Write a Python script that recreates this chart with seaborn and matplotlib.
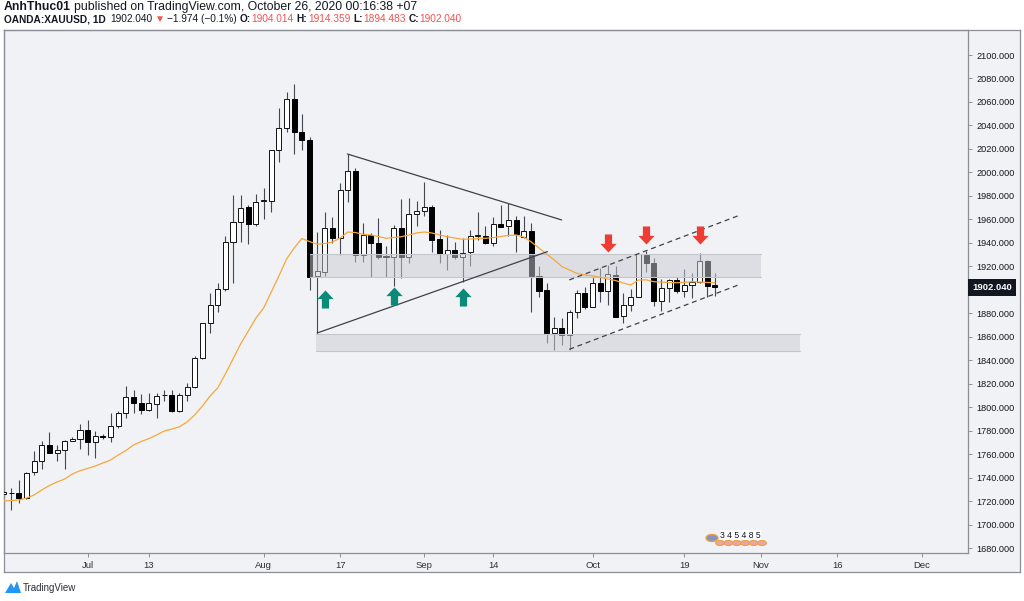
import numpy as np
import pandas as pd
import matplotlib
matplotlib.use("Agg")
import matplotlib.pyplot as plt
import matplotlib.transforms as mtransforms
from matplotlib.patches import Rectangle, Polygon, Circle
from matplotlib.path import Path
import seaborn as sns

# ---------------- data ----------------
opens = [1726.0, 1727.0, 1726.7, 1723.0, 1744.5, 1754.4, 1767.5, 1761.0, 1763.6, 1771.0,
         1772.7, 1780.6, 1770.0, 1775.0, 1775.0, 1784.0, 1795.0, 1809.0, 1803.3, 1797.6,
         1802.7, 1810.0, 1810.4, 1797.0, 1810.0, 1817.0, 1841.7, 1871.5, 1887.0, 1900.4,
         1941.0, 1958.0, 1970.3, 1955.8, 1975.6, 1976.0, 2019.0, 2037.6, 2062.5, 2034.7,
         2027.6, 1911.8, 1915.5, 1953.0, 1944.4, 1985.0, 2001.5, 1929.6, 1946.7, 1940.0,
         1928.5, 1928.0, 1953.0, 1928.0, 1964.6, 1967.5, 1970.3, 1943.0, 1930.3, 1934.0,
         1928.0, 1932.0, 1945.8, 1945.8, 1940.0, 1956.0, 1954.3, 1959.5, 1944.7, 1950.4,
         1912.0, 1899.8, 1863.0, 1867.2, 1861.5, 1881.4, 1897.0, 1885.0, 1906.0, 1899.0,
         1912.6, 1877.7, 1887.0, 1893.6, 1929.6, 1922.6, 1890.8, 1901.3, 1908.0, 1899.0,
         1904.0, 1906.4, 1924.6, 1904.014]
highs = [1729, 1731, 1738, 1745, 1763, 1771, 1779, 1768, 1772, 1775,
         1786, 1789, 1780, 1777, 1795, 1797, 1818, 1815, 1811, 1812,
         1812, 1815, 1815, 1812, 1821, 1844, 1872, 1897.5, 1906, 1945.5,
         1981, 1981, 1972, 1982, 1986.5, 2019.5, 2055, 2068.7, 2075, 2049.5,
         2030, 1949, 1966.5, 1962, 1991, 2015.7, 2004, 1956.6, 1948, 1961,
         1937, 1955, 1977, 1978, 1976, 1992, 1972, 1951, 1946.7, 1941,
         1944, 1951, 1966.5, 1954, 1962, 1972.2, 1973.7, 1963, 1963, 1956.6,
         1920, 1905.5, 1877, 1875.7, 1882.8, 1899.8, 1902.7, 1911.8, 1918.3, 1921,
         1920.5, 1897.6, 1900.5, 1931.6, 1933.4, 1926.8, 1909, 1909, 1911, 1918,
         1914, 1931.6, 1925.4, 1914.359]
lows = [1725, 1712.5, 1718, 1722, 1742, 1747, 1761, 1754, 1747, 1771,
        1764, 1759, 1757, 1773, 1770, 1782, 1791, 1795, 1794, 1797,
        1790.5, 1805, 1796, 1796, 1805, 1816, 1841, 1863.5, 1881, 1899,
        1906, 1941, 1939, 1954.6, 1960, 1966.5, 2009, 2034, 2015.4, 2019,
        1900, 1863, 1911.8, 1939.6, 1929.6, 1975, 1924, 1924, 1910.6, 1926,
        1911, 1903, 1910, 1923, 1954, 1963, 1932.5, 1922.6, 1917, 1926,
        1907, 1920, 1942, 1938.8, 1937.3, 1953.7, 1946, 1932.5, 1944, 1881.4,
        1894, 1855, 1848.7, 1853, 1848.7, 1875.7, 1884, 1885, 1890, 1887,
        1877, 1872, 1882, 1893.6, 1915.4, 1886, 1882, 1890, 1897, 1894,
        1893, 1906, 1894, 1894.483]
closes = [1727.5, 1726.5, 1723.0, 1744.0, 1754.4, 1767.5, 1761.0, 1763.5, 1771.5, 1773.0,
          1780.6, 1770.0, 1775.8, 1774.5, 1784.0, 1795.0, 1809.0, 1803.4, 1797.6, 1803.3,
          1809.5, 1810.8, 1797.0, 1810.4, 1817.5, 1841.7, 1871.5, 1886.8, 1901.0, 1941.0,
          1958.0, 1970.0, 1955.8, 1975.0, 1976.0, 2019.0, 2037.6, 2062.5, 2034.7, 2027.6,
          1911.0, 1916.0, 1953.0, 1944.4, 1985.0, 2001.5, 1929.6, 1946.7, 1940.0, 1928.0,
          1928.0, 1953.0, 1928.0, 1964.6, 1967.5, 1970.3, 1942.5, 1930.3, 1934.0, 1928.0,
          1931.0, 1945.8, 1946.0, 1940.0, 1956.0, 1953.7, 1959.5, 1947.5, 1950.4, 1911.8,
          1899.3, 1863.0, 1867.2, 1861.5, 1881.4, 1897.0, 1885.0, 1906.0, 1899.0, 1913.2,
          1877.0, 1887.0, 1893.6, 1930.3, 1922.6, 1890.8, 1901.3, 1908.0, 1899.0, 1904.0,
          1906.4, 1924.6, 1903.3, 1902.040]
ma_line = [1720.1, 1720.5, 1720.9, 1722.6, 1725.2, 1729.5, 1733.3, 1736.3, 1738.8, 1743.1,
           1745.9, 1747.8, 1749.9, 1752.5, 1755.0, 1759.3, 1763.1, 1767.8, 1770.8, 1773.2,
           1776.3, 1779.7, 1781.4, 1783.3, 1787.4, 1793.4, 1801.0, 1809.5, 1816.4, 1828.3,
           1841.1, 1853.9, 1864.9, 1876.0, 1884.5, 1898.1, 1911.8, 1926.2, 1935.6, 1943.7,
           1941.1, 1938.8, 1939.4, 1940.7, 1944.1, 1949.2, 1948.8, 1947.1, 1946.7, 1945.4,
           1943.9, 1944.5, 1945.2, 1946.7, 1948.4, 1949.2, 1948.4, 1946.7, 1945.2, 1944.1,
           1943.0, 1943.3, 1943.7, 1943.9, 1944.5, 1945.4, 1946.3, 1946.7, 1945.0, 1940.7,
           1935.6, 1930.5, 1925.4, 1919.8, 1916.8, 1913.9, 1912.6, 1911.8, 1910.6, 1909.2,
           1907.9, 1905.8, 1904.1, 1908.3, 1908.5, 1906.9, 1906.6, 1906.2, 1906.0, 1906.4,
           1906.9, 1906.6, 1906.2, 1906.0]

time_tick_bars = [12, 20, 35, 45, 56, 65, 78, 90, 100, 110, 121]
time_tick_labels = ["Jul", "13", "Aug", "17", "Sep", "14", "Oct", "19", "Nov", "16", "Dec"]
price_ticks = list(range(1680, 2101, 20))
last_price = 1902.040

zone_bar_start = [41.0, 41.9]
zone_bar_end = [100.0, 105.1]
zone_low = [1911.2, 1848.1]
zone_high = [1930.5, 1862.4]

line_bar_start = [45.94, 42.0, 74.96, 74.96]
line_bar_end = [73.96, 72.1, 97.05, 97.05]
line_price_start = [2015.7, 1863.2, 1908.4, 1849.3]
line_price_end = [1959.5, 1932.5, 1963.1, 1904.1]
line_dashed = [False, False, True, True]

up_arrow_bars = [43, 52, 61]
up_arrow_prices = [1892.5, 1894.7, 1893.9]
down_arrow_bars = [80, 85, 92]
down_arrow_prices = [1940.0, 1947.0, 1946.5]

# ---------------- styling ----------------
sns.set_theme(style="white")
plt.rcParams['font.family'] = ['Liberation Sans', 'DejaVu Sans']

W, H = 1024, 601
BG = "#f1f2f5"
FRAME = "#8c8f98"
TXT = "#131722"

def fx(px):
    return px / W

def fy(py):
    return 1 - py / H

fig = plt.figure(figsize=(W / 100, H / 100), dpi=100)
fig.patch.set_facecolor("white")

# outer frame (price scale + time scale strip)
frame = fig.add_axes([fx(4), fy(572), fx(1020) - fx(4), fy(30) - fy(572)])
frame.set_facecolor(BG)
frame.set_xticks([]); frame.set_yticks([])
for s in frame.spines.values():
    s.set_color(FRAME); s.set_linewidth(0.9)
frame.set_zorder(0)

ax = fig.add_axes([fx(4), fy(553), fx(968) - fx(4), fy(30) - fy(553)])
ax.set_zorder(1)
ax.set_facecolor("none")
for s in ax.spines.values():
    s.set_color(FRAME); s.set_linewidth(0.9)

n = len(opens)
bars = np.arange(1, n + 1)
o = np.array(opens); c = np.array(closes); h = np.array(highs); l = np.array(lows)
up = c >= o

# wicks
ax.vlines(bars, l, h, color="#45484f", linewidth=0.8, zorder=2)
body_w = 0.66
hgt = np.maximum(np.abs(c - o), 0.6)
bot = np.minimum(o, c)
ax.bar(bars[up], hgt[up], bottom=bot[up], width=body_w, facecolor="white",
       edgecolor="#111111", linewidth=0.7, zorder=3)
ax.bar(bars[~up], hgt[~up], bottom=bot[~up], width=body_w, facecolor="black",
       edgecolor="black", linewidth=0.7, zorder=3)

# zones
for b0, b1, lo, hi in zip(zone_bar_start, zone_bar_end, zone_low, zone_high):
    ax.add_patch(Rectangle((b0, lo), b1 - b0, hi - lo, facecolor="#c9ccd4", alpha=0.5,
                           edgecolor="none", zorder=4))
    ax.plot([b0, b1], [hi, hi], color="#c3c6cd", lw=0.8, zorder=4)
    ax.plot([b0, b1], [lo, lo], color="#c3c6cd", lw=0.8, zorder=4)

# moving average via seaborn
df = pd.DataFrame({"bar": bars, "ma": ma_line})
sns.lineplot(data=df, x="bar", y="ma", ax=ax, color="#f6a73b", linewidth=0.9, zorder=5)

# trend lines
for b0, b1, p0, p1, dsh in zip(line_bar_start, line_bar_end, line_price_start, line_price_end, line_dashed):
    if dsh:
        ax.plot([b0, b1], [p0, p1], color="#3e414b", lw=0.9, dashes=(4, 3), zorder=5)
    else:
        ax.plot([b0, b1], [p0, p1], color="#3e414b", lw=0.9, zorder=5)

# arrows
arrow_up = Path([(0, 0.5), (0.45, 0.02), (0.2, 0.02), (0.2, -0.5), (-0.2, -0.5),
                 (-0.2, 0.02), (-0.45, 0.02), (0, 0.5)], closed=True)
arrow_dn = Path([(0, -0.5), (0.45, -0.02), (0.2, -0.02), (0.2, 0.5), (-0.2, 0.5),
                 (-0.2, -0.02), (-0.45, -0.02), (0, -0.5)], closed=True)
ax.plot(up_arrow_bars, up_arrow_prices, linestyle="none", marker=arrow_up, markersize=13,
        color="#0b8a7a", markeredgewidth=0, zorder=6)
ax.plot(down_arrow_bars, down_arrow_prices, linestyle="none", marker=arrow_dn, markersize=13,
        color="#ef3b33", markeredgewidth=0, zorder=6)

# limits (bar 1 at px 3.5, 7.65 px per bar; 1.174 px per price unit)
ax.set_xlim(1 + (4 - 3.5) / 7.65, 1 + (968 - 3.5) / 7.65)
ax.set_ylim(2100 - (553 - 55) / 1.174, 2100 + (55 - 30) / 1.174)

ax.yaxis.tick_right()
ax.set_yticks(price_ticks)
ax.set_yticklabels(["" if abs(v - last_price) < 8 else f"{v:.3f}" for v in price_ticks])
ax.set_xticks(time_tick_bars)
ax.set_xticklabels(time_tick_labels)
ax.tick_params(axis="y", which="both", right=True, left=False, length=3, width=0.7,
               color=FRAME, pad=3, labelsize=6.6, labelcolor=TXT)
ax.tick_params(axis="x", which="both", bottom=True, length=3, width=0.7,
               color=FRAME, pad=3, labelsize=6.8, labelcolor="#2a2e39")
ax.set_xlabel(""); ax.set_ylabel("")
ax.grid(False)

# last price label
trans = mtransforms.blended_transform_factory(ax.transAxes, ax.transData)
ax.text(1.0 + 4 / 964, last_price, f"{last_price:.3f}", transform=trans, ha="left", va="center",
        color="white", fontsize=6.8, fontweight="bold", clip_on=False, zorder=10,
        bbox=dict(boxstyle="square,pad=0.42", facecolor="#131722", edgecolor="none"))

# header
renderer = fig.canvas.get_renderer()


def seq_text(x_px, y_px, parts, size, family, target_w=None):
    def measure(sz):
        ws = []
        for s, col, wt, gap in parts:
            t = fig.text(0, 0, s, fontsize=sz, fontweight=wt, family=family)
            ws.append(t.get_window_extent(renderer=renderer).width)
            t.remove()
        return ws
    widths = measure(size)
    total = sum(widths) + sum(p[3] for p in parts)
    if target_w is not None and total > target_w:
        size = size * target_w / total
        widths = measure(size)
    x = x_px
    for (s, col, wt, gap), w in zip(parts, widths):
        fig.text(fx(x), fy(y_px), s, color=col, fontsize=size, fontweight=wt,
                 family=family, ha="left", va="center")
        x += w + gap


RED = "#ef5350"
FAM1 = ['Liberation Sans', 'DejaVu Sans']
seq_text(4, 7, [("AnhThuc01", TXT, "bold", 3.4),
                ("published on TradingView.com, October 26, 2020 00:16:38 +07", TXT, "normal", 0)],
         8.8, FAM1)
seq_text(4, 19, [("OANDA:XAUUSD, 1D", TXT, "bold", 5),
                 ("1902.040", TXT, "normal", 2),
                 ("\u25bc", RED, "normal", 2.5),
                 ("\u22121.974 (\u22120.1%)", TXT, "normal", 3),
                 ("O:", TXT, "bold", 0.5), ("1904.014", RED, "normal", 3),
                 ("H:", TXT, "bold", 0.5), ("1914.359", RED, "normal", 3),
                 ("L:", TXT, "bold", 0.5), ("1894.483", RED, "normal", 3),
                 ("C:", TXT, "bold", 0.5), ("1902.040", RED, "normal", 0)],
         8.8, FAM1, target_w=455)

# economic events marker
for i in range(6):
    fig.patches.append(Circle((fx(720 + i * 8.4), fy(543)), radius=4.3 / W,
                              transform=fig.transFigure, facecolor="#e9a6a6",
                              edgecolor="#f0a040", linewidth=0.8, zorder=5))
fig.patches.append(Circle((fx(712), fy(538)), radius=6 / W, transform=fig.transFigure,
                          facecolor="#7f95c8", edgecolor="#f0a040", linewidth=1.0, zorder=6))
fig.text(fx(720), fy(535), "3 4 5 4 8 5", fontsize=6.2, color=TXT, ha="left", va="center",
         zorder=7, bbox=dict(boxstyle="square,pad=0.05", facecolor="white", edgecolor="none"))

# TradingView logo
fig.patches.append(Polygon([(fx(5), fy(593)), (fx(11), fy(583)), (fx(14), fy(588)),
                            (fx(17), fy(581)), (fx(21), fy(593))], closed=True,
                           transform=fig.transFigure, facecolor="#2196f3", edgecolor="none"))
fig.text(fx(23), fy(588), "TradingView", fontsize=7, color="#2a2e39", ha="left", va="center")

fig.savefig("out.png", dpi=100, facecolor="white")
